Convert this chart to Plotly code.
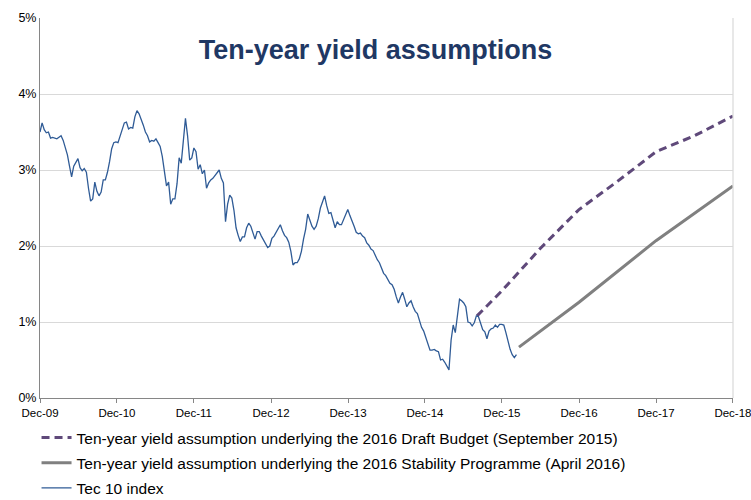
import pandas as pd
import plotly.graph_objects as go

# Tec 10 index, sampled every 10 days from 1 Dec 2009 (%)
tec10_start = "2009-12-01"
tec10_values = [
    3.50, 3.62, 3.53, 3.49, 3.50, 3.42, 3.43, 3.42, 3.41, 3.43,
    3.45, 3.39, 3.30, 3.20, 3.05, 2.91, 3.05, 3.11, 3.15, 3.03,
    2.99, 3.02, 2.97, 2.76, 2.59, 2.62, 2.84, 2.72, 2.66, 2.71,
    2.87, 2.87, 2.97, 3.11, 3.28, 3.36, 3.37, 3.36, 3.45, 3.53,
    3.62, 3.63, 3.54, 3.56, 3.55, 3.70, 3.78, 3.74, 3.67, 3.59,
    3.50, 3.45, 3.37, 3.39, 3.38, 3.41, 3.36, 3.31, 3.18, 2.97,
    2.79, 2.84, 2.55, 2.62, 2.62, 2.82, 3.16, 3.09, 3.37, 3.68,
    3.45, 3.13, 3.16, 3.29, 3.24, 3.01, 3.07, 2.95, 3.00, 2.76,
    2.83, 2.87, 2.89, 2.93, 2.96, 3.00, 2.89, 2.83, 2.32, 2.55,
    2.67, 2.63, 2.47, 2.24, 2.14, 2.06, 2.12, 2.12, 2.24, 2.30,
    2.26, 2.16, 2.09, 2.19, 2.19, 2.13, 2.08, 2.03, 1.98, 2.00,
    2.10, 2.13, 2.18, 2.25, 2.28, 2.20, 2.14, 2.11, 2.05, 1.93,
    1.75, 1.78, 1.78, 1.83, 1.93, 2.09, 2.22, 2.42, 2.34, 2.26,
    2.22, 2.26, 2.36, 2.50, 2.58, 2.66, 2.53, 2.43, 2.44, 2.33,
    2.24, 2.32, 2.28, 2.28, 2.34, 2.40, 2.48, 2.40, 2.34, 2.26,
    2.18, 2.16, 2.17, 2.13, 2.11, 2.04, 2.01, 1.96, 1.94, 1.87,
    1.82, 1.78, 1.70, 1.64, 1.61, 1.55, 1.51, 1.49, 1.43, 1.33,
    1.25, 1.33, 1.39, 1.30, 1.20, 1.25, 1.28, 1.20, 1.14, 1.11,
    1.01, 0.93, 0.88, 0.80, 0.71, 0.63, 0.63, 0.64, 0.62, 0.61,
    0.50, 0.51, 0.47, 0.42, 0.37, 0.76, 0.96, 0.86, 1.08, 1.30,
    1.28, 1.25, 1.20, 1.00, 0.99, 0.95, 0.99, 1.08, 1.07, 0.99,
    0.90, 0.87, 0.78, 0.88, 0.91, 0.92, 0.96, 0.93, 0.97, 0.97,
    0.96, 0.86, 0.74, 0.64, 0.57, 0.53, 0.57,
]
tec10_dates = pd.date_range(tec10_start, periods=len(tec10_values), freq="10D")

# Draft Budget assumption (September 2015)
budget_dates = ["2015-08-05", "2015-12-01", "2016-06-01", "2016-12-01",
                "2017-06-01", "2017-12-01", "2018-06-01", "2018-12-01"]
budget_values = [1.08, 1.41, 1.97, 2.48, 2.85, 3.24, 3.45, 3.71]

# Stability Programme assumption (April 2016)
stab_dates = ["2016-02-20", "2016-12-01", "2017-12-01", "2018-12-01"]
stab_values = [0.67, 1.26, 2.07, 2.79]

year_ticks = [f"{y}-12-01" for y in range(2009, 2019)]
year_labels = [f"Dec-{str(y)[2:]}" for y in range(2009, 2019)]
pct_ticks = [0, 1, 2, 3, 4, 5]
pct_labels = [f"{v}%" for v in pct_ticks]

fig = go.Figure()
fig.add_trace(go.Scatter(
    x=budget_dates, y=budget_values, mode="lines", legendgroup="budget",
    name="Ten-year yield assumption underlying the 2016 Draft Budget (September 2015)",
    line=dict(color="#5F497A", width=3, dash="8px,5px"),
))
fig.add_trace(go.Scatter(
    x=stab_dates, y=stab_values, mode="lines", legendgroup="stab",
    name="Ten-year yield assumption underlying the 2016 Stability Programme (April 2016)",
    line=dict(color="#808080", width=3),
))
fig.add_trace(go.Scatter(
    x=tec10_dates, y=tec10_values, mode="lines", legendgroup="tec10",
    name="Tec 10 index",
    line=dict(color="#2F5B96", width=1.3),
))

font_family = "Liberation Sans, Arial, sans-serif"

fig.update_layout(
    width=751, height=500,
    margin=dict(l=40, r=18, t=18, b=102, autoexpand=False),
    paper_bgcolor="white", plot_bgcolor="white",
    font=dict(family=font_family, color="#000000"),
    title=dict(
        text="<b>Ten-year yield assumptions</b>",
        x=0.5, xanchor="center", yref="container", y=0.9, yanchor="middle",
        font=dict(size=27, color="#1F3864", family=font_family),
    ),
    showlegend=True,
    legend=dict(
        orientation="v", x=-0.005, xanchor="left",
        yref="container", y=1 - 421 / 500, yanchor="top",
        font=dict(size=15.5, color="#000000"),
        bgcolor="rgba(0,0,0,0)", tracegroupgap=2,
    ),
    xaxis=dict(
        type="date", range=["2009-12-01", "2018-12-01 06:00"],
        tickvals=year_ticks, ticktext=year_labels,
        showgrid=False, zeroline=False,
        showline=True, linecolor="#868686", linewidth=1,
        ticks="outside", ticklen=4, tickcolor="#868686",
        tickfont=dict(size=11.5, color="#000000"),
        ticklabeloverflow="allow",
    ),
    yaxis=dict(
        range=[0, 5], tickvals=pct_ticks, ticktext=pct_labels,
        showgrid=True, gridcolor="#D9D9D9", gridwidth=1.2,
        zeroline=False, showline=True, linecolor="#868686", linewidth=1,
        ticks="", tickfont=dict(size=12.5, color="#000000"),
    ),
    shapes=[dict(type="line", xref="paper", yref="paper", x0=1, x1=1, y0=0, y1=1,
                 line=dict(color="#D9D9D9", width=1.2))],
)

fig.write_html("out.html")
